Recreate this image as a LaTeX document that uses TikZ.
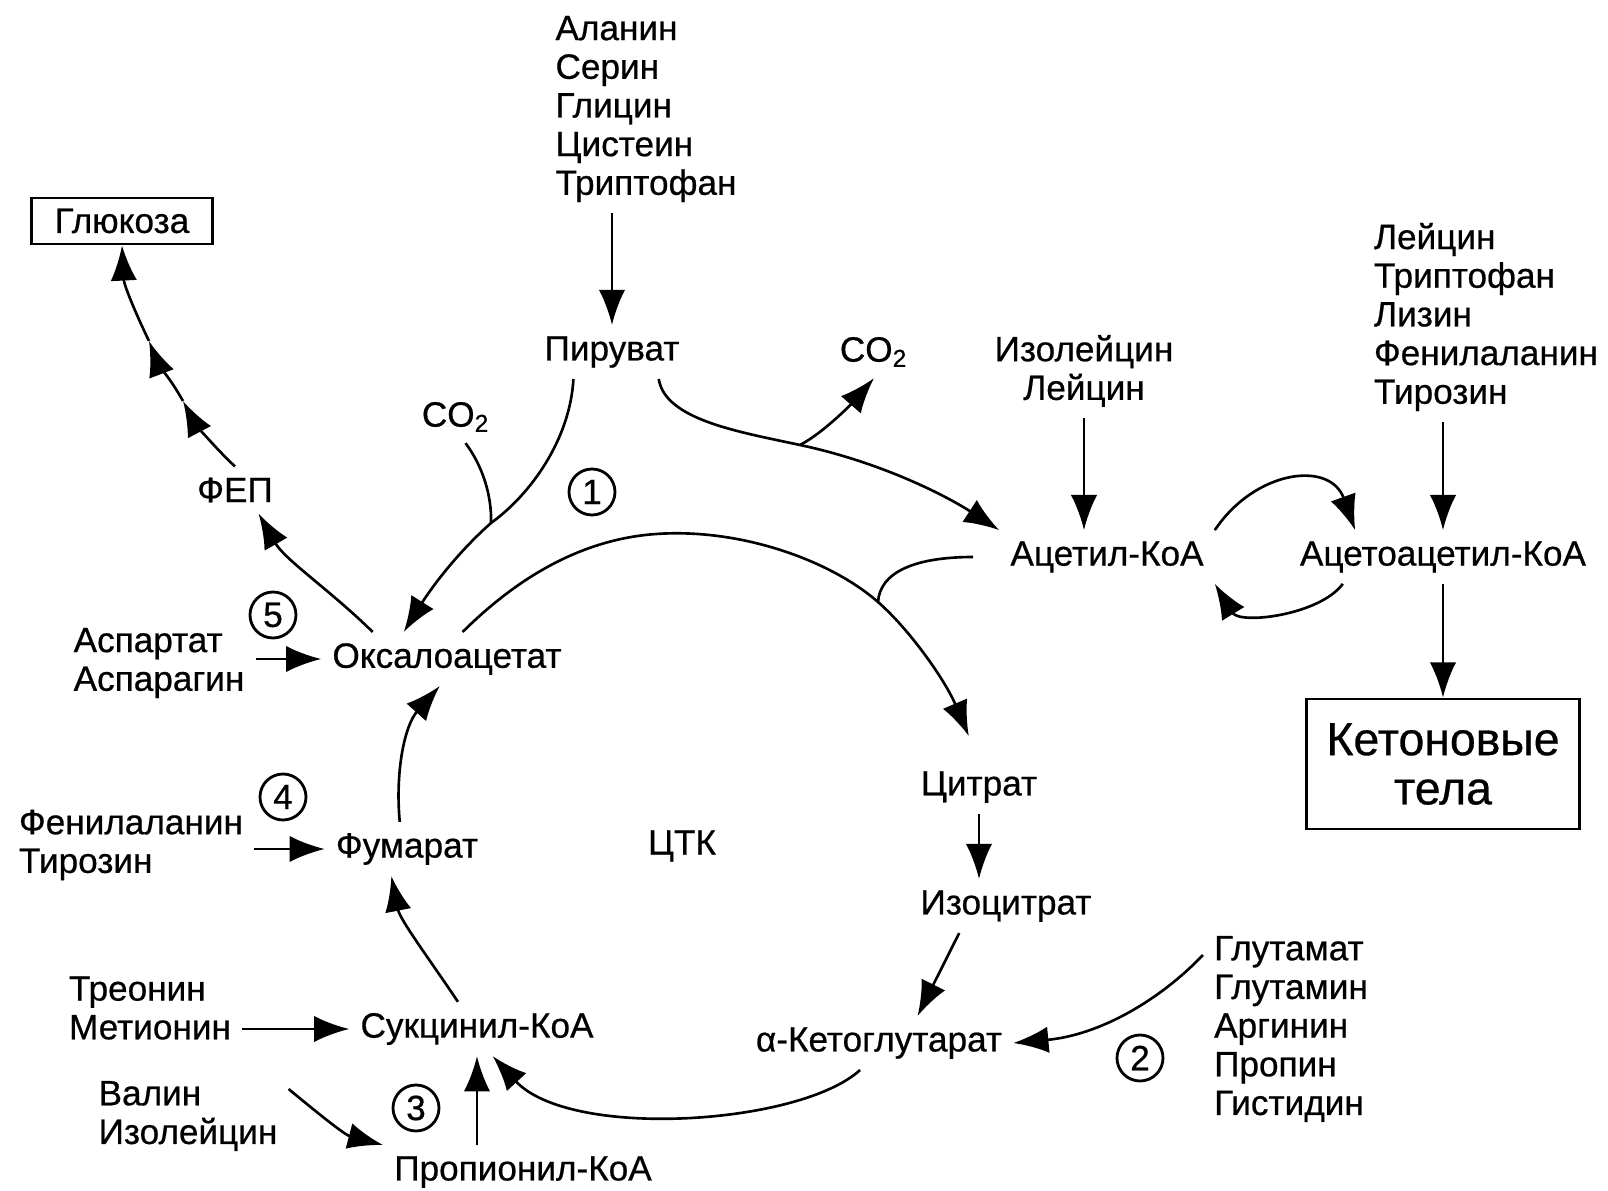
\documentclass[tikz,border=0pt]{standalone}
\usepackage{fontspec}
\setmainfont{Liberation Sans}[FakeBold=0.6]
\usetikzlibrary{arrows.meta}
\newlength{\du}
\setlength{\du}{0.01cm}

\begin{document}
\begin{tikzpicture}[
  lbl/.style={font=\fontsize{10}{11}\selectfont, inner sep=3pt},
  lst/.style={lbl, align=left},
  boxed/.style={lbl, draw, line width=0.8pt},
  num/.style={lbl, draw, circle, minimum size=46\du, inner sep=0pt, line width=0.8pt},
  arr/.style={-{Latex[length=10pt,width=7.5pt]}, line width=0.75pt},
  ln/.style={line width=0.75pt}]
\pgftransformxscale{1.000000}
\pgftransformyscale{-1.000000}
\definecolor{dialinecolor}{rgb}{0.000000, 0.000000, 0.000000}
\pgfsetstrokecolor{dialinecolor}
\useasboundingbox (0.0\du,0.0\du) rectangle (1608.0\du,1191.0\du);
% texts
\node[lst] (ala) at (646.0\du,109.0\du){Аланин\\Серин\\Глицин\\Цистеин\\Триптофан};
\node[lbl] (piruvat) at (612.0\du,352.0\du){Пируват};
\node[lbl] (co2r) at (874.0\du,352.0\du){CO\textsubscript{2}};
\node[lbl, align=center] (izol) at (1084.0\du,371.0\du){Изолейцин\\Лейцин};
\node[lst] (lej) at (1486.0\du,317.0\du){Лейцин\\Триптофан\\Лизин\\Фенилаланин\\Тирозин};
\node[lbl] (acetil) at (1107.0\du,557.0\du){Ацетил-КоА};
\node[lbl] (aceto) at (1443.0\du,557.0\du){Ацетоацетил-КоА};
\node[boxed, font=\fontsize{13.2}{14}\selectfont, align=center, minimum width=273\du, minimum height=130\du] (keton) at (1443.0\du,764.0\du){Кетоновые\\тела};
\node[boxed, minimum width=181\du, minimum height=46\du] (gluk) at (122.0\du,221.0\du){Глюкоза};
\node[lbl] (fep) at (235.0\du,490.0\du){ФЕП};
\node[lbl] (co2l) at (456.0\du,417.0\du){CO\textsubscript{2}};
\node[lbl] (oksalo) at (447.0\du,659.0\du){Оксалоацетат};
\node[lst] (aspart) at (159.0\du,663.0\du){Аспартат\\Аспарагин};
\node[lbl] (fumarat) at (407.0\du,849.0\du){Фумарат};
\node[lst] (fenil) at (131.0\du,845.0\du){Фенилаланин\\Тирозин};
\node[lbl] (ctk) at (682.0\du,846.0\du){ЦТК};
\node[lbl] (citrat) at (979.0\du,787.0\du){Цитрат};
\node[lbl] (izocit) at (1006.0\du,906.0\du){Изоцитрат};
\node[lbl] (ketoglu) at (879.0\du,1043.0\du){α-Кетоглутарат};
\node[lst] (glut) at (1291.0\du,1029.0\du){Глутамат\\Глутамин\\Аргинин\\Пропин\\Гистидин};
\node[lbl] (sukc) at (477.0\du,1029.0\du){Сукцинил-КоА};
\node[lst] (treon) at (150.0\du,1008.0\du){Треонин\\Метионин};
\node[lst] (valin) at (188.0\du,1116.0\du){Валин\\Изолейцин};
\node[lbl] (propion) at (523.0\du,1172.0\du){Пропионил-КоА};
\node[num] (n1) at (592.0\du,492.0\du){1};
\node[num] (n2) at (1140.0\du,1058.0\du){2};
\node[num] (n3) at (416.0\du,1108.0\du){3};
\node[num] (n4) at (283.0\du,797.0\du){4};
\node[num] (n5) at (273.0\du,615.0\du){5};
\coordinate (jp) at (800.0\du,445.0\du);
\coordinate (jl) at (491.0\du,523.0\du);
\coordinate (ja) at (878.0\du,602.0\du);
\coordinate (gp1) at (183.0\du,401.0\du);
\coordinate (gp2) at (149.0\du,341.0\du);
% pyruvate
\draw[arr] (ala.south -| piruvat.north) -- (piruvat.north);
\draw[arr] (piruvat.-30) .. controls (665.0\du,420.0\du) and (740.0\du,432.0\du) .. (jp) .. controls (880.0\du,462.0\du) and (945.0\du,495.0\du) .. (acetil.north west);
\draw[arr] (jp) .. controls (825.0\du,432.0\du) and (855.0\du,400.0\du) .. (co2r.south);
\draw[arr] (piruvat.-145) .. controls (570.0\du,440.0\du) and (530.0\du,495.0\du) .. (jl) .. controls (455.0\du,555.0\du) and (430.0\du,590.0\du) .. (oksalo.148);
\draw[ln] (co2l.-70) .. controls (482.0\du,465.0\du) and (492.0\du,495.0\du) .. (jl);
% gluconeogenesis
\draw[arr] (oksalo.160) .. controls (330.0\du,590.0\du) and (285.0\du,560.0\du) .. (fep.-45);
\draw[arr] (fep.north) .. controls (212.0\du,445.0\du) and (193.0\du,420.0\du) .. (gp1);
\draw[arr] (gp1) .. controls (170.0\du,378.0\du) and (157.0\du,362.0\du) .. (gp2);
\draw[arr] (gp2) .. controls (135.0\du,312.0\du) and (124.0\du,285.0\du) .. (gluk.south);
% cycle
\draw[arr, shorten >=26\du] (oksalo.60) .. controls (505.0\du,590.0\du) and (570.0\du,540.0\du) .. (656.0\du,534.0\du) .. controls (740.0\du,528.0\du) and (830.0\du,560.0\du) .. (ja) .. controls (910.0\du,630.0\du) and (945.0\du,680.0\du) .. (citrat.north);
\draw[ln, shorten <=26\du] (acetil.west) .. controls (915.0\du,557.0\du) and (880.0\du,572.0\du) .. (ja);
\draw[arr] (citrat.south) -- (citrat.south |- izocit.north);
\draw[arr] (izocit.-150) -- (ketoglu.35);
\draw[arr] (glut.140) .. controls (1160.0\du,1000.0\du) and (1100.0\du,1035.0\du) .. (ketoglu.east);
\draw[arr] (ketoglu.-125) .. controls (800.0\du,1125.0\du) and (570.0\du,1140.0\du) .. (sukc.-60);
\draw[arr] (sukc.125) .. controls (430.0\du,960.0\du) and (400.0\du,920.0\du) .. (fumarat.-120);
\draw[arr] (fumarat.105) .. controls (395.0\du,770.0\du) and (405.0\du,725.0\du) .. (oksalo.-105);
% amino acids in
\draw[arr] (aspart.east |- oksalo.west) -- (oksalo.west);
\draw[arr] (fenil.east |- fumarat.west) -- (fumarat.west);
\draw[arr] (treon.east |- sukc.west) -- (sukc.west);
\draw[arr] (valin.15) .. controls (320.0\du,1115.0\du) and (345.0\du,1135.0\du) .. (propion.north west);
\draw[arr] (sukc.south |- propion.north) -- (sukc.south);
% ketone bodies
\draw[arr] (izol.south) -- (izol.south |- acetil.north);
\draw[arr] (aceto.north |- lej.south) -- (aceto.north);
\draw[arr] (aceto.south) -- (keton.north);
\draw[arr] (acetil.north east) .. controls (1255.0\du,470.0\du) and (1330.0\du,460.0\du) .. (aceto.163);
\draw[arr] (aceto.-165) .. controls (1320.0\du,615.0\du) and (1240.0\du,625.0\du) .. (acetil.south east);
\end{tikzpicture}
\end{document}
